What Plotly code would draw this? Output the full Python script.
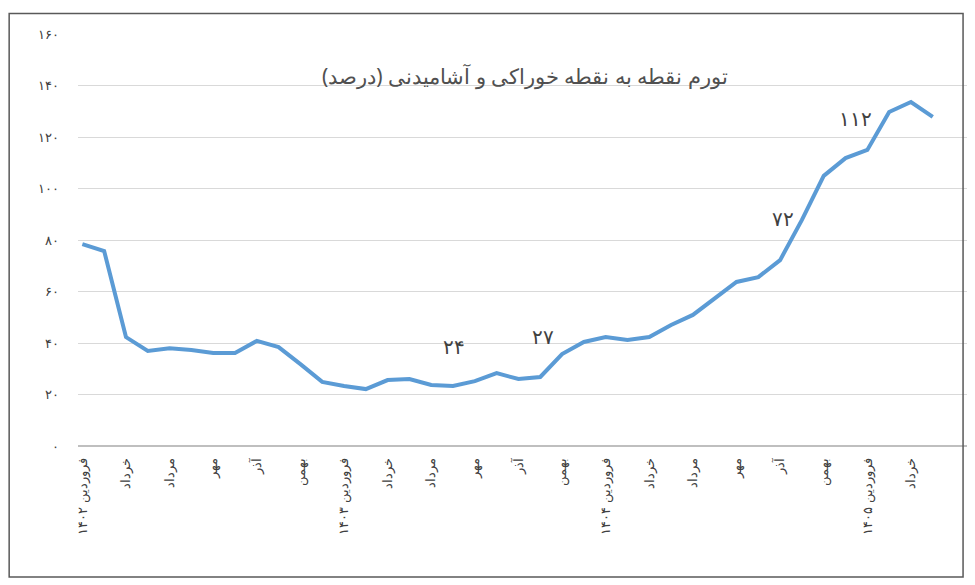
import plotly.graph_objects as go

# monthly food inflation (point-to-point), Farvardin 1402 .. Tir 1405
values = [78.4, 75.7, 42.3, 36.9, 38.0, 37.3, 36.1, 36.1, 40.8, 38.4,
          31.8, 24.9, 23.3, 22.1, 25.6, 26.0, 23.7, 23.3, 25.2, 28.3,
          26.0, 26.8, 35.7, 40.4, 42.3, 41.2, 42.3, 47.0, 50.9, 57.1,
          63.7, 65.6, 72.2, 87.8, 104.9, 111.8, 115.0, 129.7, 133.6, 127.8]
months = list(range(len(values)))

tick_pos = list(range(0, 40, 2))
tick_text = ['فروردین ۱۴۰۲', 'خرداد', 'مرداد', 'مهر', 'آذر', 'بهمن',
             'فروردین ۱۴۰۳', 'خرداد', 'مرداد', 'مهر', 'آذر', 'بهمن',
             'فروردین ۱۴۰۴', 'خرداد', 'مرداد', 'مهر', 'آذر', 'بهمن',
             'فروردین ۱۴۰۵', 'خرداد']
y_ticks = [0, 20, 40, 60, 80, 100, 120, 140, 160]
y_text = ['۰', '۲۰', '۴۰', '۶۰', '۸۰', '۱۰۰', '۱۲۰', '۱۴۰', '۱۶۰']

# callout labels: month index and text
callout_idx = [16, 21, 32, 35]
callout_text = ['۲۴', '۲۷', '۷۲', '۱۱۲']

fig = go.Figure()
fig.add_trace(go.Scatter(x=months, y=values, mode='lines',
                         line=dict(color='#5b9bd5', width=4)))

shifts = [(23, 38), (3, 40), (3, 42), (10, 40)]
for i, t, (dx, dy) in zip(callout_idx, callout_text, shifts):
    fig.add_annotation(x=i, y=values[i], text=t, showarrow=False, xshift=dx, yshift=dy,
                       font=dict(size=20, color='#404040', family='Noto Sans'))

fig.add_annotation(x=0.5, y=0.937, xref='paper', yref='paper', showarrow=False,
                   text='تورم نقطه به نقطه خوراکی و آشامیدنی (درصد)',
                   font=dict(size=21, color='#505050', family='Noto Sans'))

fig.add_shape(type='rect', xref='paper', yref='paper', x0=-0.077, x1=0.99, y0=-0.318, y1=1.05,
              line=dict(color='#595959', width=1.5))

fig.update_layout(
    width=975, height=585,
    margin=dict(l=70, r=11, t=26, b=147),
    plot_bgcolor='white', paper_bgcolor='white',
    showlegend=False,
    xaxis=dict(tickvals=tick_pos, ticktext=tick_text, tickangle=-90,
               range=[-0.2, 40.8], showgrid=False, zeroline=False,
               ticks='outside', ticklen=6, tickcolor='white',
               tickfont=dict(size=13, color='#404040', family='Noto Sans')),
    yaxis=dict(tickvals=y_ticks, ticktext=y_text, range=[0, 160],
               gridcolor='#d9d9d9', zeroline=True, zerolinecolor='#bfbfbf',
               tickfont=dict(size=13, color='#404040', family='Noto Sans'), ticklabelstandoff=18),
)

fig.write_html("out.html")
